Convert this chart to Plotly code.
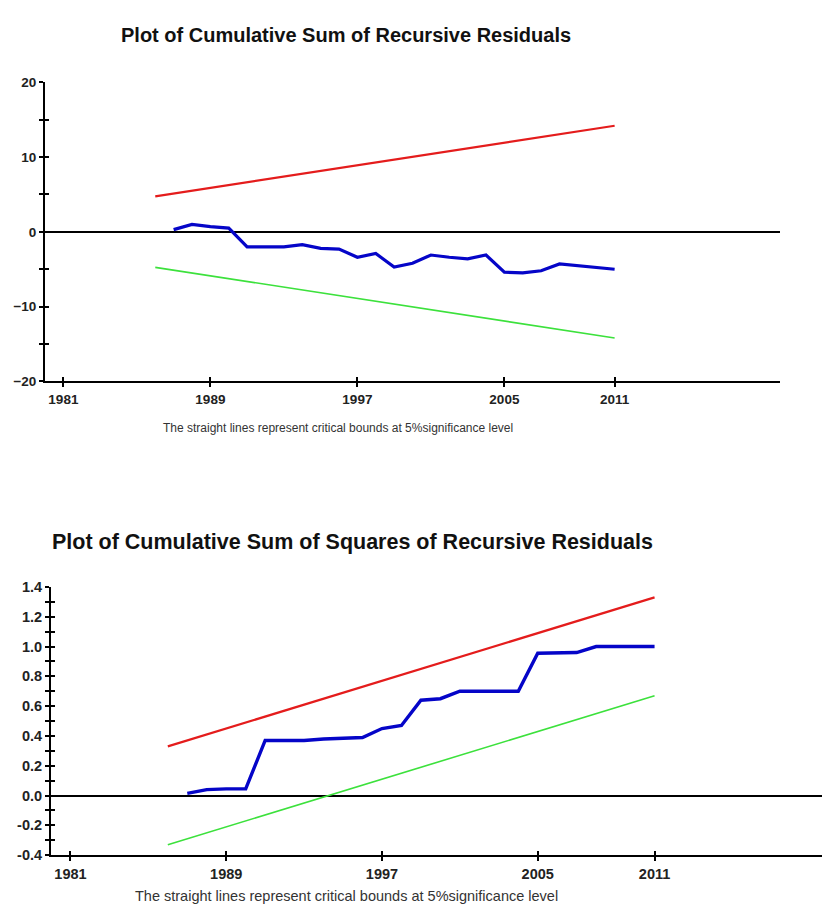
import plotly.graph_objects as go

# ---------------- data ----------------
years = list(range(1987, 2012))
cusum = [0.3, 1.0, 0.7, 0.5, -2.0, -2.0, -2.0, -1.7, -2.2, -2.3, -3.4, -2.9,
         -4.7, -4.2, -3.1, -3.4, -3.6, -3.1, -5.4, -5.5, -5.2, -4.3, -4.5, -4.7, -5.0]
cusumsq = [0.015, 0.04, 0.045, 0.045, 0.37, 0.37, 0.37, 0.38, 0.385, 0.39, 0.45, 0.47,
           0.64, 0.65, 0.70, 0.70, 0.70, 0.70, 0.955, 0.955, 0.96, 1.0, 1.0, 1.0, 1.0]

bound_years = [1986, 2011]
cusum_upper = [4.75, 14.2]
cusum_lower = [-4.75, -14.2]
cusumsq_upper = [0.33, 1.33]
cusumsq_lower = [-0.33, 0.67]

xtick_vals = [1981, 1989, 1997, 2005, 2011]
xtick_text = ["1981", "1989", "1997", "2005", "2011"]
top_ytick_vals = [-20, -10, 0, 10, 20]
bot_ytick_vals = [-0.4, -0.2, 0.0, 0.2, 0.4, 0.6, 0.8, 1.0, 1.2, 1.4]
bot_ytick_text = ["-0.4", "-0.2", "0.0", "0.2", "0.4", "0.6", "0.8", "1.0", "1.2", "1.4"]

title_top = "Plot of Cumulative Sum of Recursive Residuals"
title_bot = "Plot of Cumulative Sum of Squares of Recursive Residuals"
note = "The straight lines represent critical bounds at 5%significance level"

RED = "rgb(228,28,28)"
GREEN = "rgb(60,225,60)"
BLUE = "rgb(5,5,200)"
FONT = "Liberation Sans, Arial, sans-serif"

W, H = 822, 912

def px(x):
    return x / W

def py(y):
    return 1 - y / H

fig = go.Figure()

# top chart
fig.add_trace(go.Scatter(x=bound_years, y=cusum_upper, mode="lines",
                         line=dict(color=RED, width=2.2), xaxis="x", yaxis="y"))
fig.add_trace(go.Scatter(x=bound_years, y=cusum_lower, mode="lines",
                         line=dict(color=GREEN, width=1.6), xaxis="x", yaxis="y"))
fig.add_trace(go.Scatter(x=years, y=cusum, mode="lines",
                         line=dict(color=BLUE, width=3.2), xaxis="x", yaxis="y"))
# bottom chart
fig.add_trace(go.Scatter(x=bound_years, y=cusumsq_upper, mode="lines",
                         line=dict(color=RED, width=2.2), xaxis="x2", yaxis="y2"))
fig.add_trace(go.Scatter(x=bound_years, y=cusumsq_lower, mode="lines",
                         line=dict(color=GREEN, width=1.6), xaxis="x2", yaxis="y2"))
fig.add_trace(go.Scatter(x=years, y=cusumsq, mode="lines",
                         line=dict(color=BLUE, width=3.4), xaxis="x2", yaxis="y2"))

tickfont_top = dict(family=FONT, size=13.5, color="#222", weight="bold")
tickfont_bot = dict(family=FONT, size=14.5, color="#222", weight="bold")

top_x_dom = [px(45), px(780)]
top_y_dom = [py(380), py(75.7)]
bot_x_dom = [px(51), 1.0]
bot_y_dom = [py(862.3), py(589.3)]

tick_common = dict(ticklen=4, tickwidth=2, tickcolor="black")

fig.update_layout(
    width=W, height=H,
    margin=dict(l=0, r=0, t=0, b=0),
    paper_bgcolor="white", plot_bgcolor="white",
    showlegend=False,
    xaxis=dict(domain=top_x_dom, range=[1980, 2020], anchor="y",
               tickvals=xtick_vals, ticktext=xtick_text, ticks="outside", **tick_common,
               showline=True, linecolor="black", linewidth=2,
               showgrid=False, zeroline=False, tickfont=tickfont_top),
    yaxis=dict(domain=top_y_dom, range=[-20, 20], anchor="x",
               tickvals=top_ytick_vals, ticks="outside", **tick_common,
               minor=dict(dtick=5, tick0=0, ticks="outside", **tick_common),
               showline=True, linecolor="black", linewidth=2,
               showgrid=False, zeroline=True, zerolinecolor="black", zerolinewidth=2,
               tickfont=tickfont_top),
    xaxis2=dict(domain=bot_x_dom, range=[1980, 2019.6], anchor="y2",
                tickvals=xtick_vals, ticktext=xtick_text, ticks="outside", **tick_common,
                showline=True, linecolor="black", linewidth=2,
                showgrid=False, zeroline=False, tickfont=tickfont_bot),
    yaxis2=dict(domain=bot_y_dom, range=[-0.4, 1.4], anchor="x2",
                tickvals=bot_ytick_vals, ticktext=bot_ytick_text, ticks="outside", **tick_common,
                minor=dict(dtick=0.1, tick0=0, ticks="outside", **tick_common),
                showline=True, linecolor="black", linewidth=2,
                showgrid=False, zeroline=True, zerolinecolor="black", zerolinewidth=2,
                tickfont=tickfont_bot),
    # overlaid axes giving the inner half of the crossing ticks
    xaxis3=dict(overlaying="x", anchor="y", side="bottom", range=[1980, 2020],
                tickvals=xtick_vals, ticks="inside", **tick_common,
                showticklabels=False, showline=False, showgrid=False, zeroline=False),
    yaxis3=dict(overlaying="y", anchor="x", side="left", range=[-20, 20],
                tickvals=top_ytick_vals, ticks="inside", **tick_common,
                minor=dict(dtick=5, tick0=0, ticks="inside", **tick_common),
                showticklabels=False, showline=False, showgrid=False, zeroline=False),
    xaxis4=dict(overlaying="x2", anchor="y2", side="bottom", range=[1980, 2019.6],
                tickvals=xtick_vals, ticks="inside", **tick_common,
                showticklabels=False, showline=False, showgrid=False, zeroline=False),
    yaxis4=dict(overlaying="y2", anchor="x2", side="left", range=[-0.4, 1.4],
                tickvals=bot_ytick_vals, ticks="inside", **tick_common,
                minor=dict(dtick=0.1, tick0=0, ticks="inside", **tick_common),
                showticklabels=False, showline=False, showgrid=False, zeroline=False),
)

# invisible traces so the overlaid axes are drawn
fig.add_trace(go.Scatter(x=[None], y=[None], xaxis="x3", yaxis="y3", showlegend=False, hoverinfo="skip"))
fig.add_trace(go.Scatter(x=[None], y=[None], xaxis="x4", yaxis="y4", showlegend=False, hoverinfo="skip"))

annotations = [
    dict(text="<b>" + title_top + "</b>", x=px(346), y=py(27), xref="paper", yref="paper",
         showarrow=False, xanchor="center", yanchor="middle",
         font=dict(family=FONT, size=20, color="#111")),
    dict(text=note, x=px(338), y=py(427), xref="paper", yref="paper",
         showarrow=False, xanchor="center", yanchor="middle",
         font=dict(family=FONT, size=12, color="#333")),
    dict(text="<b>" + title_bot + "</b>", x=px(352), y=py(543.5), xref="paper", yref="paper",
         showarrow=False, xanchor="center", yanchor="middle",
         font=dict(family=FONT, size=21.5, color="#111")),
    dict(text=note, x=px(346), y=py(904), xref="paper", yref="paper",
         showarrow=False, xanchor="center", yanchor="middle",
         font=dict(family=FONT, size=14.5, color="#333")),
]
fig.update_layout(annotations=annotations)

# remove the default page margin so the figure fills the 822x912 window exactly
fig.write_html("out.html", config={"displayModeBar": False},
               post_script="document.body.style.margin='0px';")
